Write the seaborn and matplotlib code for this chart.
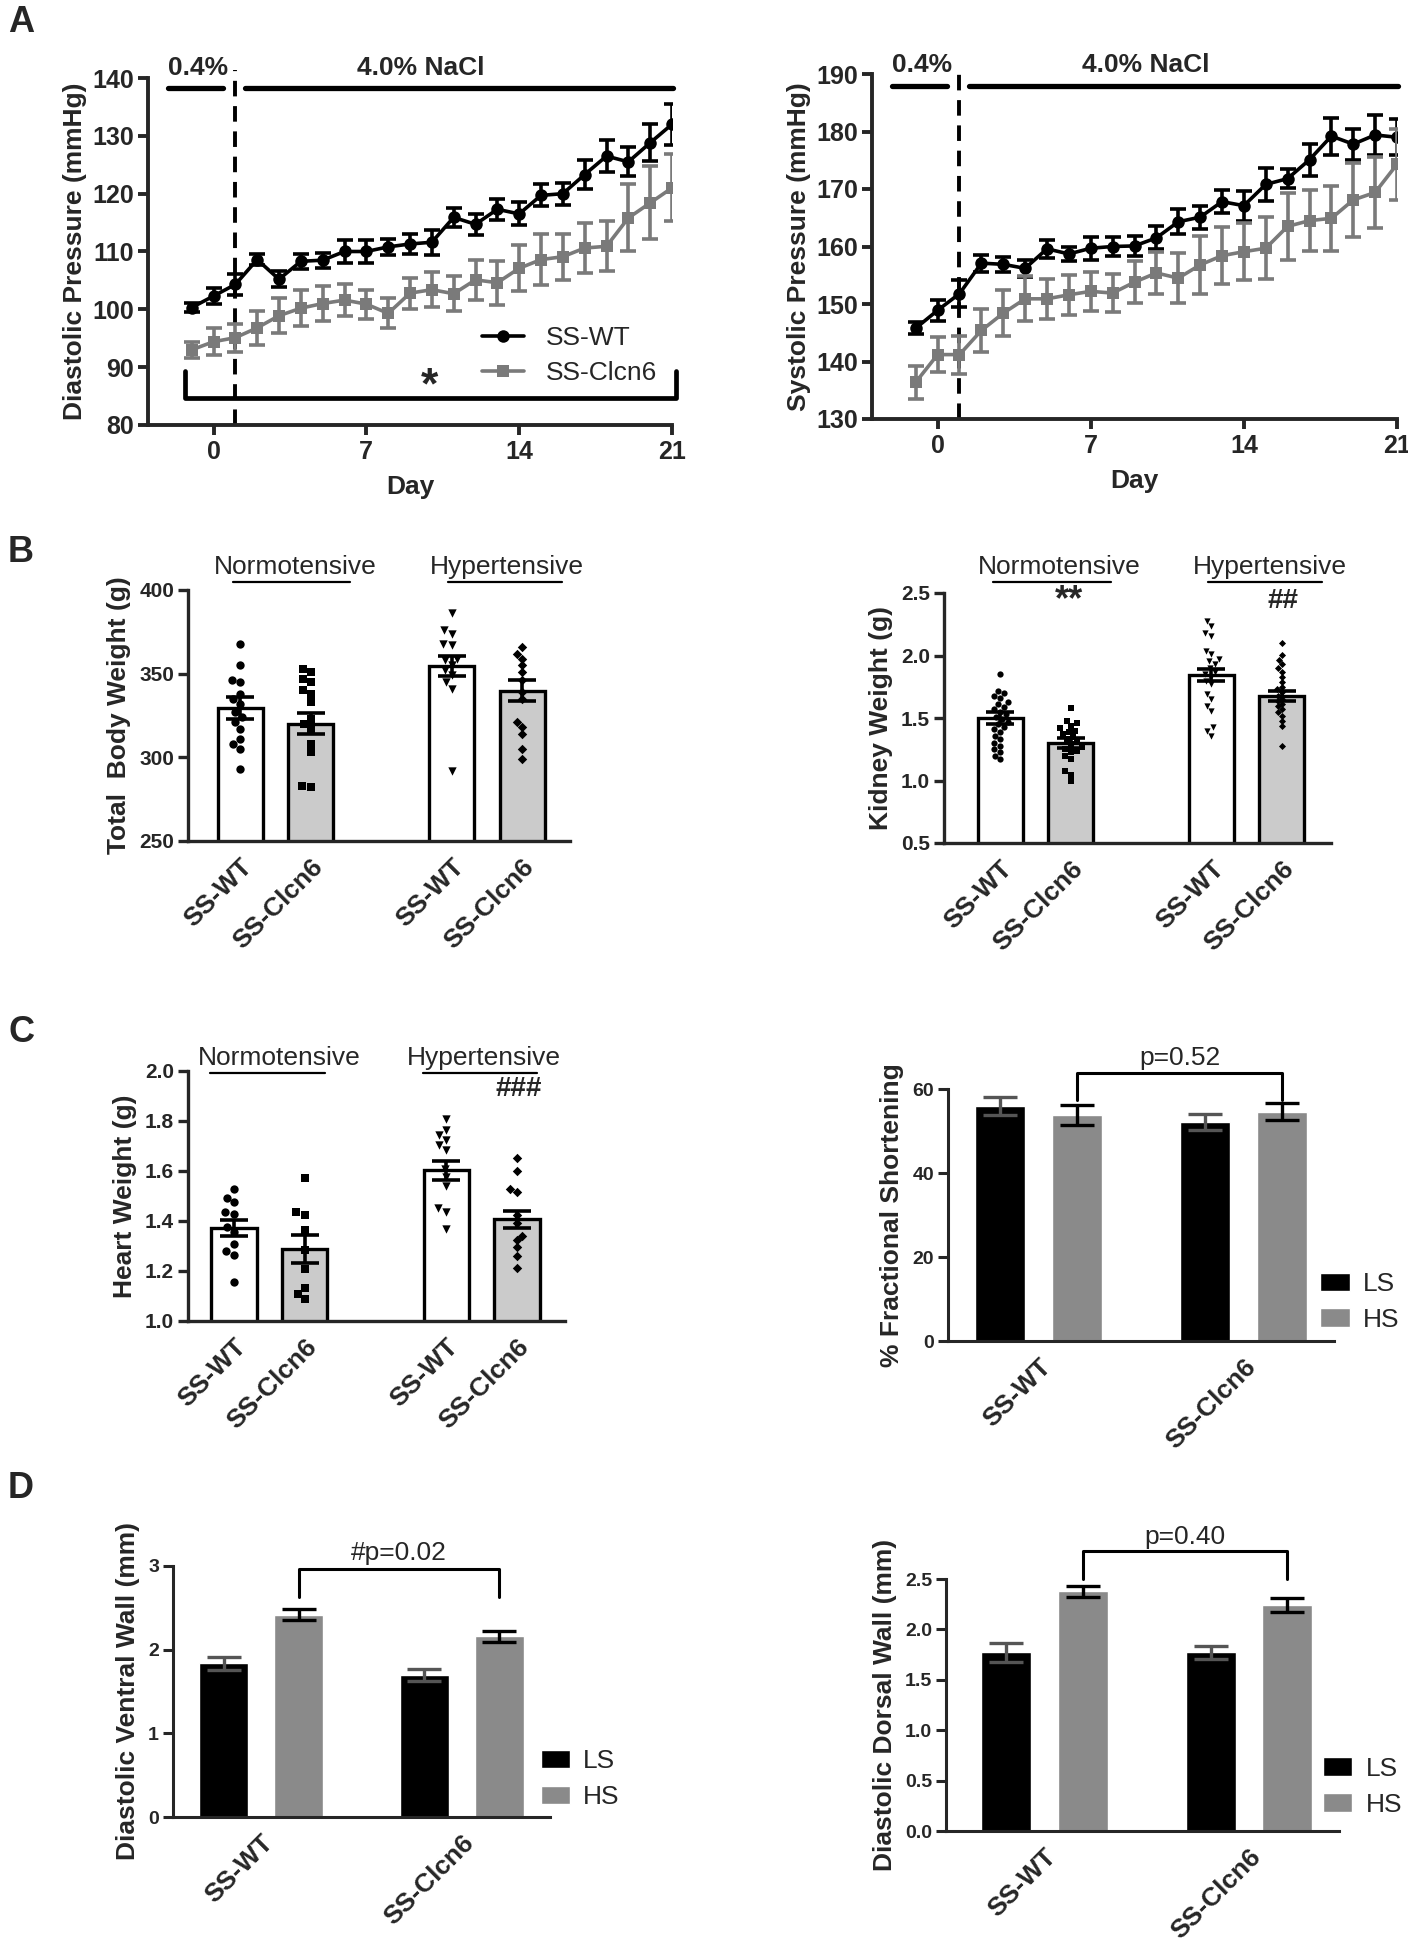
import numpy as np
import pandas as pd
import matplotlib
matplotlib.use('Agg')
import matplotlib.pyplot as plt
import seaborn as sns
from matplotlib.lines import Line2D
from matplotlib.patches import Patch

sns.set_style('ticks')
plt.rcParams['font.family'] = ['Liberation Sans', 'DejaVu Sans']

# ── DATA ────────────────────────────────────────────────────────
days = list(range(-1, 22))

dia_wt     = [100.3, 102.3, 104.3, 108.6, 105.2, 108.3, 108.5, 110.0, 110.0, 110.8, 111.3, 111.6,
              115.9, 114.7, 117.3, 116.5, 119.7, 120.0, 123.3, 126.5, 125.5, 128.8, 132.0]
dia_wt_sem = [0.8, 1.4, 1.8, 1.0, 1.4, 1.3, 1.3, 2.0, 2.0, 1.4, 1.8, 2.2,
              1.7, 1.8, 1.8, 2.0, 1.9, 1.9, 2.5, 2.7, 2.5, 3.2, 3.5]
dia_ko     = [93.0, 94.4, 95.1, 96.8, 98.9, 100.2, 101.0, 101.6, 100.9, 99.3, 102.8, 103.4,
              102.7, 105.1, 104.6, 107.1, 108.6, 109.1, 110.6, 110.9, 115.8, 118.4, 121.0]
dia_ko_sem = [1.4, 2.3, 2.4, 2.9, 3.0, 3.1, 3.0, 2.8, 2.5, 2.6, 2.7, 3.0,
              3.0, 3.4, 3.8, 4.0, 4.4, 4.0, 4.3, 4.3, 5.8, 6.3, 5.8]

sys_wt     = [145.8, 148.9, 151.8, 157.1, 156.9, 156.2, 159.6, 158.7, 159.7, 160.0, 160.1, 161.5,
              164.3, 165.1, 167.8, 167.1, 170.8, 171.8, 175.1, 179.2, 177.8, 179.4, 179.0]
sys_wt_sem = [1.0, 1.8, 2.4, 1.5, 1.3, 1.5, 1.6, 1.3, 2.0, 1.6, 1.7, 2.0,
              2.2, 2.0, 2.0, 2.6, 2.8, 1.7, 2.8, 3.2, 2.7, 3.5, 3.1]
sys_ko     = [136.4, 141.2, 141.2, 145.4, 148.4, 150.9, 150.9, 151.6, 152.2, 151.9, 153.8, 155.4,
              154.5, 156.8, 158.4, 159.1, 159.7, 163.5, 164.5, 164.9, 168.1, 169.4, 174.3]
sys_ko_sem = [2.9, 3.0, 3.3, 3.8, 4.0, 3.9, 3.5, 3.5, 3.4, 3.3, 3.7, 3.6,
              4.3, 5.0, 5.0, 5.0, 5.4, 5.8, 5.3, 5.6, 6.4, 6.1, 6.2]

groups = ['N-WT', 'N-Clcn6', 'H-WT', 'H-Clcn6']
strain_labels = ['SS-WT', 'SS-Clcn6', 'SS-WT', 'SS-Clcn6']

bw_mean = [329.5, 320.0, 354.8, 339.8]
bw_sem  = [6.5, 6.3, 5.9, 6.3]
bw_pts = {
    'N-WT':    [368, 355, 346, 345, 338, 335, 332, 327, 324, 321, 317, 311, 308, 305, 293],
    'N-Clcn6': [353, 351, 347, 345, 340, 338, 333, 323, 320, 317, 308, 303, 283, 282],
    'H-WT':    [386, 376, 374, 368, 367, 359, 358, 355, 352, 349, 345, 341, 292],
    'H-Clcn6': [366, 362, 359, 355, 351, 346, 339, 335, 321, 318, 314, 305, 299],
}

kw_mean = [1.50, 1.303, 1.847, 1.673]
kw_sem  = [0.045, 0.040, 0.047, 0.040]
kw_pts = {
    'N-WT':    [1.855, 1.72, 1.70, 1.68, 1.66, 1.63, 1.61, 1.59, 1.57, 1.55, 1.53, 1.51, 1.49,
                1.47, 1.45, 1.43, 1.41, 1.39, 1.36, 1.335, 1.30, 1.28, 1.25, 1.23, 1.20, 1.175],
    'N-Clcn6': [1.583, 1.48, 1.46, 1.44, 1.42, 1.40, 1.39, 1.375, 1.35, 1.335, 1.31, 1.295,
                1.27, 1.255, 1.24, 1.228, 1.20, 1.175, 1.073, 1.047, 0.993],
    'H-WT':    [2.28, 2.24, 2.18, 2.16, 2.04, 2.015, 1.975, 1.955, 1.935, 1.90, 1.87, 1.85,
                1.83, 1.80, 1.775, 1.695, 1.655, 1.60, 1.56, 1.43, 1.40, 1.36],
    'H-Clcn6': [2.10, 2.005, 1.965, 1.93, 1.90, 1.87, 1.83, 1.79, 1.75, 1.73, 1.71, 1.68,
                1.655, 1.635, 1.615, 1.595, 1.575, 1.55, 1.52, 1.48, 1.435, 1.273],
}

hw_mean = [1.373, 1.287, 1.604, 1.407]
hw_sem  = [0.032, 0.056, 0.038, 0.033]
hw_pts = {
    'N-WT':    [1.528, 1.493, 1.475, 1.435, 1.428, 1.377, 1.357, 1.31, 1.28, 1.263, 1.155],
    'N-Clcn6': [1.573, 1.435, 1.425, 1.365, 1.285, 1.21, 1.133, 1.11, 1.088],
    'H-WT':    [1.807, 1.764, 1.744, 1.724, 1.704, 1.684, 1.61, 1.577, 1.54, 1.451, 1.437, 1.367],
    'H-Clcn6': [1.651, 1.60, 1.527, 1.517, 1.424, 1.393, 1.341, 1.324, 1.297, 1.26, 1.211],
}

strains = ['SS-WT', 'SS-Clcn6']
diets = ['LS', 'HS']

fs_ls, fs_ls_sem = [55.9, 52.1], [2.2, 1.9]
fs_hs, fs_hs_sem = [53.8, 54.6], [2.3, 2.0]

vw_ls, vw_ls_sem = [1.835, 1.696], [0.083, 0.075]
vw_hs, vw_hs_sem = [2.42, 2.162], [0.070, 0.066]

dw_ls, dw_ls_sem = [1.773, 1.773], [0.094, 0.067]
dw_hs, dw_hs_sem = [2.378, 2.245], [0.053, 0.070]

# ── FIGURE ──────────────────────────────────────────────────────
W, H = 1408, 1950
fig = plt.figure(figsize=(W / 100, H / 100), dpi=100)


def px_axes(x0, x1, y0, y1):
    return fig.add_axes([x0 / W, 1 - y1 / H, (x1 - x0) / W, (y1 - y0) / H])


def style_axes(ax, lw, ytick_size, ticklen=7):
    sns.despine(ax=ax)
    for s in ['left', 'bottom']:
        ax.spines[s].set_linewidth(lw)
    ax.tick_params(axis='y', width=lw, length=ticklen, labelsize=ytick_size, pad=3)
    for t in ax.get_yticklabels():
        t.set_fontweight('bold')


# ── PANEL A: blood pressure time course ─────────────────────────
def bp_panel(ax, wt, wt_sem, ko, ko_sem, ylim, yticks, ylabel, bar_y, txt_y):
    n = len(days)
    df = pd.DataFrame({'Day': days * 2, 'BP': wt + ko,
                       'Strain': ['SS-WT'] * n + ['SS-Clcn6'] * n})
    sns.lineplot(data=df, x='Day', y='BP', hue='Strain', style='Strain',
                 markers={'SS-WT': 'o', 'SS-Clcn6': 's'}, dashes=False,
                 palette={'SS-WT': 'black', 'SS-Clcn6': '#7a7a7a'},
                 markersize=9, markeredgewidth=0, linewidth=2.6,
                 errorbar=None, legend=False, ax=ax)
    ax.errorbar(days, wt, yerr=wt_sem, fmt='none', ecolor='black',
                elinewidth=2.6, capsize=6, capthick=2.6)
    ax.errorbar(days, ko, yerr=ko_sem, fmt='none', ecolor='#7a7a7a',
                elinewidth=2.6, capsize=6, capthick=2.6)
    ax.set_xlim(-3, 21)
    ax.set_ylim(*ylim)
    ax.set_xticks([0, 7, 14, 21])
    ax.set_yticks(yticks)
    style_axes(ax, 2.8, 18)
    ax.tick_params(axis='x', width=2.8, length=7, labelsize=18, pad=4)
    for t in ax.get_xticklabels():
        t.set_fontweight('bold')
    ax.set_xlabel('Day', fontsize=19, fontweight='bold', labelpad=8)
    ax.set_ylabel(ylabel, fontsize=19, fontweight='bold', labelpad=4)
    # diet switch and salt bars
    ax.plot([1, 1], [ylim[0], ylim[1] + 1.3], ls=(0, (4, 2.5)), color='black',
            lw=2.8, clip_on=False, zorder=1)
    ax.plot([-2.1, 0.45], [bar_y, bar_y], color='black', lw=3.8, clip_on=False)
    ax.plot([1.45, 21.05], [bar_y, bar_y], color='black', lw=3.8, clip_on=False)
    ax.text(-0.7, txt_y, '0.4%', ha='center', va='center', fontsize=19,
            fontweight='bold')
    ax.text(9.5, txt_y, '4.0% NaCl', ha='center', va='center', fontsize=19,
            fontweight='bold')


axA1 = px_axes(148, 672, 78, 425)
bp_panel(axA1, dia_wt, dia_wt_sem, dia_ko, dia_ko_sem, (80, 140),
         [80, 90, 100, 110, 120, 130, 140], 'Diastolic Pressure (mmHg)', 138.3, 141.8)
axA1.plot([-1.3, -1.3, 21.2, 21.2], [89.3, 84.6, 84.6, 89.3], color='black',
          lw=3.4, clip_on=False)
axA1.text(9.9, 86.6, '*', ha='center', va='center', fontsize=32, fontweight='bold')
leg_handles = [
    Line2D([], [], color='black', marker='o', markersize=9, lw=2.6, markeredgewidth=0),
    Line2D([], [], color='#7a7a7a', marker='s', markersize=9, lw=2.6, markeredgewidth=0),
]
axA1.legend(leg_handles, ['SS-WT', 'SS-Clcn6'], loc='center left',
            bbox_to_anchor=(12.3, 92.0), bbox_transform=axA1.transData,
            frameon=False, fontsize=19, handlelength=1.6, handletextpad=0.8,
            labelspacing=0.4, borderpad=0, borderaxespad=0)

axA2 = px_axes(872, 1397, 74, 419)
bp_panel(axA2, sys_wt, sys_wt_sem, sys_ko, sys_ko_sem, (130, 190),
         [130, 140, 150, 160, 170, 180, 190], 'Systolic Pressure (mmHg)', 187.9, 191.6)

# ── PANELS B / C-left: organ weights with individual points ─────
order = ['N-WT', 'N-Clcn6', ' ', 'H-WT', 'H-Clcn6']
markers = {'N-WT': 'o', 'N-Clcn6': 's', 'H-WT': 'v', 'H-Clcn6': 'D'}
fills = {'N-WT': 'white', 'N-Clcn6': '#cbcbcb', 'H-WT': 'white', 'H-Clcn6': '#cbcbcb'}


def dot_panel(ax, means, sems, pts, ylim, yticks, yfmt, ylabel, xlim, txt, dot_size):
    df = pd.DataFrame({'grp': groups, 'val': means})
    sns.barplot(data=df, x='grp', y='val', order=order, hue='grp', palette=fills,
                edgecolor='black', linewidth=2.4, width=0.64, saturation=1,
                errorbar=None, legend=False, ax=ax, zorder=1)
    ax.set_ylim(*ylim)
    for g in groups:
        sub = pd.DataFrame({'grp': g, 'val': pts[g]})
        sz = dot_size * (0.8 if markers[g] == 'D' else 1.0)
        sns.swarmplot(data=sub, x='grp', y='val', order=order, marker=markers[g],
                      size=sz, color='black', linewidth=0, ax=ax, zorder=3,
                      warn_thresh=1)
    xpos = [order.index(g) for g in groups]
    ax.errorbar(xpos, means, yerr=sems, fmt='none', ecolor='black', elinewidth=2.6,
                capsize=10, capthick=2.6, zorder=4)
    ax.set_xlim(*xlim)
    ax.set_ylim(*ylim)
    ax.set_yticks(yticks)
    ax.set_yticklabels([yfmt.format(v) for v in yticks])
    ax.set_xticks(xpos)
    ax.set_xticklabels(strain_labels, rotation=45, ha='right', rotation_mode='anchor',
                       fontsize=19, fontweight='bold')
    style_axes(ax, 2.4, 15)
    ax.tick_params(axis='x', length=0, pad=10)
    ax.set_xlabel('')
    ax.set_ylabel(ylabel, fontsize=19, fontweight='bold', labelpad=6)
    tr = ax.get_xaxis_transform()
    for label, cx, (u0, u1), ty, uy in txt:
        ax.text(cx, ty, label, transform=tr, ha='center', va='center', fontsize=19)
        ax.plot([u0, u1], [uy, uy], transform=tr, color='black', lw=1.6, clip_on=False)


axB1 = px_axes(188, 570, 590, 841)
dot_panel(axB1, bw_mean, bw_sem, bw_pts, (250, 400), [250, 300, 350, 400], '{:.0f}',
          'Total  Body Weight (g)', (-0.74, 4.68),
          [('Normotensive', 0.78, (-0.1, 1.56), 1.092, 1.032),
           ('Hypertensive', 3.78, (2.95, 4.57), 1.092, 1.032)], 6)

axB2 = px_axes(944, 1331, 593, 843)
dot_panel(axB2, kw_mean, kw_sem, kw_pts, (0.5, 2.5), [0.5, 1.0, 1.5, 2.0, 2.5], '{:.1f}',
          'Kidney Weight (g)', (-0.8, 4.7),
          [('Normotensive', 0.84, (-0.1, 1.58), 1.104, 1.044),
           ('Hypertensive', 3.83, (2.95, 4.57), 1.104, 1.044)], 4.5)
axB2.text(0.98, 2.44, '**', ha='center', va='center', fontsize=26, fontweight='bold')
axB2.text(4.02, 2.44, '##', ha='center', va='center', fontsize=20, fontweight='bold')

axC1 = px_axes(188, 565, 1071, 1321)
dot_panel(axC1, hw_mean, hw_sem, hw_pts, (1.0, 2.0), [1.0, 1.2, 1.4, 1.6, 1.8, 2.0], '{:.1f}',
          'Heart Weight (g)', (-0.65, 4.68),
          [('Normotensive', 0.64, (-0.34, 1.29), 1.052, 0.992),
           ('Hypertensive', 3.54, (2.67, 4.29), 1.052, 0.992)], 6)
axC1.text(4.03, 1.927, '###', ha='center', va='center', fontsize=20, fontweight='bold')

# ── PANELS C-right / D: echo measures, LS vs HS ─────────────────
diet_colors = {'LS': 'black', 'HS': '#8a8a8a'}
err_colors = {'LS': '#555555', 'HS': 'black'}


def echo_panel(ax, ls, ls_sem, hs, hs_sem, ylim, yticks, yfmt, ylabel,
               xlim, p_text, br_top, br_leg, p_y, leg_anchor):
    df = pd.DataFrame({'Strain': strains * 2, 'Diet': ['LS'] * 2 + ['HS'] * 2,
                       'val': ls + hs})
    sns.barplot(data=df, x='Strain', y='val', hue='Diet', order=strains,
                hue_order=diets, palette=diet_colors, width=0.75, gap=0.35,
                saturation=1, errorbar=None, legend=False, ax=ax)
    centers = {}
    for diet, cont, sem in zip(diets, ax.containers, [ls_sem, hs_sem]):
        xs = [b.get_x() + b.get_width() / 2 for b in cont]
        hs_ = [b.get_height() for b in cont]
        centers[diet] = xs
        ax.errorbar(xs, hs_, yerr=sem, fmt='none', ecolor=err_colors[diet],
                    elinewidth=2.4, capsize=12, capthick=2.4, zorder=4)
    x0, x1 = centers['HS']
    ax.plot([x0, x0, x1, x1], [br_leg, br_top, br_top, br_leg], color='black',
            lw=2.2, clip_on=False)
    ax.text((x0 + x1) / 2, p_y, p_text, ha='center', va='center', fontsize=19)
    ax.set_xlim(*xlim)
    ax.set_ylim(*ylim)
    ax.set_yticks(yticks)
    ax.set_yticklabels([yfmt.format(v) for v in yticks])
    ax.set_xticks([0, 1])
    ax.set_xticklabels(strains, rotation=45, ha='right', rotation_mode='anchor',
                       fontsize=19, fontweight='bold')
    style_axes(ax, 2.2, 14)
    ax.tick_params(axis='x', length=0, pad=10)
    ax.set_xlabel('')
    ax.set_ylabel(ylabel, fontsize=19, fontweight='bold', labelpad=6)
    handles = [Patch(facecolor=diet_colors[d]) for d in diets]
    ax.legend(handles, diets, loc='center left', bbox_to_anchor=leg_anchor,
              frameon=False, fontsize=19, handlelength=1.1, handleheight=0.7,
              handletextpad=0.5, labelspacing=0.45, borderpad=0, borderaxespad=0)


axC2 = px_axes(948, 1334, 1089, 1341)
echo_panel(axC2, fs_ls, fs_ls_sem, fs_hs, fs_hs_sem, (0, 60), [0, 20, 40, 60], '{:.0f}',
           '% Fractional Shortening', (-0.44, 1.44), 'p=0.52', 63.8, 57.5, 67.3,
           (0.965, 0.155))

axD1 = px_axes(173, 550, 1566, 1817)
echo_panel(axD1, vw_ls, vw_ls_sem, vw_hs, vw_hs_sem, (0, 3), [0, 1, 2, 3], '{:.0f}',
           'Diastolic Ventral Wall (mm)', (-0.44, 1.44), '#p=0.02', 2.96, 2.63, 3.15,
           (0.975, 0.15))

axD2 = px_axes(946, 1339, 1579, 1831)
echo_panel(axD2, dw_ls, dw_ls_sem, dw_hs, dw_hs_sem, (0, 2.5),
           [0, 0.5, 1.0, 1.5, 2.0, 2.5], '{:.1f}',
           'Diastolic Dorsal Wall (mm)', (-0.48, 1.44), 'p=0.40', 2.78, 2.5, 2.915,
           (0.96, 0.175))

# ── PANEL LETTERS ───────────────────────────────────────────────
for letter, (lx, ly) in zip('ABCD', [(8, 22), (8, 553), (8, 1032), (8, 1489)]):
    fig.text(lx / W, 1 - ly / H, letter, fontsize=26, fontweight='bold',
             ha='left', va='center')

fig.savefig('out.png', dpi=100, facecolor='white')
